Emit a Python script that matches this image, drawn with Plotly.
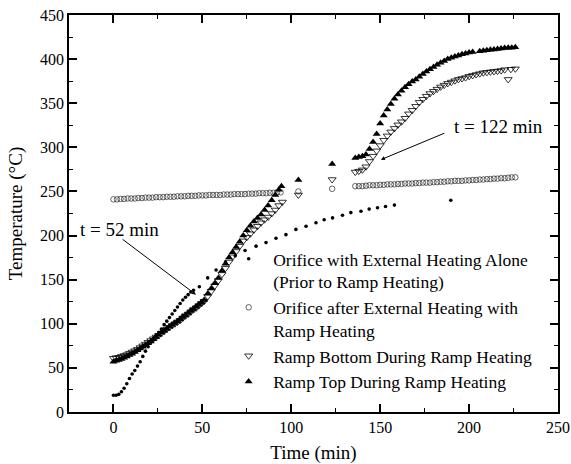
import plotly.graph_objects as go

# ---- Data ----
# Orifice with External Heating Alone (Prior to Ramp Heating) - small filled dots
ext_t = [0, 1.5, 3, 4.5, 6, 7.5, 9, 10.5, 12, 13.5, 15, 16.5, 18, 19.5, 21, 22.5, 24, 25.5,
         27, 28.5, 30, 31.5, 33, 34.5, 36, 37.5, 39, 40.5, 42, 43.5, 45,
         48.3, 53, 57.7, 63, 68.5, 74, 80.2, 85.8, 91.4, 97, 102.6, 108.3, 113.9, 118.5,
         123.2, 128.8, 133.5, 139.2, 143.8, 148.5, 153, 158, 189.7]
ext_y = [19, 19, 20, 23, 27, 32, 38, 43, 47, 52, 57, 63, 69, 74, 79, 83, 87, 90,
         94, 99, 103, 107, 111, 115, 119, 123, 127, 130, 133, 136, 138,
         142, 152, 161, 170, 177, 183, 188, 192, 197, 201, 207, 210.5, 214.5, 218,
         220, 223, 226, 227.6, 230, 231.5, 233, 234.5, 240]

# Orifice after External Heating with Ramp Heating - open circles
ori_t = [0, 2, 4, 6, 8, 10, 12, 14, 16, 18, 20, 22, 24, 26, 28, 30, 32, 34, 36, 38, 40,
         42, 44, 46, 48, 50, 52, 54, 56, 58, 60, 62, 64, 66, 68, 70, 72, 74, 76, 78, 80,
         82, 84, 86, 88, 90, 92, 94,
         104, 123,
         136, 138, 140, 142, 144, 146, 148, 150, 152, 154, 156, 158, 160, 162, 164, 166,
         168, 170, 172, 174, 176, 178, 180, 182, 184, 186, 188, 190, 192, 194, 196, 198,
         200, 202, 204, 206, 208, 210, 212, 214, 216, 218, 220, 222, 224, 226]
ori_y = [241, 241, 241.5, 241.5, 242, 242, 242, 242.5, 242.5, 243, 243, 243, 243.5, 243.5,
         243.5, 244, 244, 244, 244.5, 244.5, 244.5, 245, 245, 245, 245.5, 245.5, 245.5, 246,
         246, 246, 246, 246.5, 246.5, 246.5, 247, 247, 247, 247, 247.5, 247.5, 247.5, 248,
         248, 248, 248.5, 248.5, 249, 249,
         250, 253,
         256, 256, 256, 256.5, 257, 257, 257, 257.5, 257.5, 258, 258, 258, 258.5, 258.5,
         259, 259, 259, 259.5, 259.5, 260, 260, 260, 260.5, 260.5, 261, 261, 261.5, 261.5,
         262, 262, 262, 262.5, 262.5, 263, 263, 263.5, 263.5, 264, 264, 264.5, 264.5, 265,
         265, 265.5, 266, 266]

# Ramp Bottom During Ramp Heating - open down triangles
bot_t = [0, 1.5, 3, 4.5, 6, 7.5, 9, 10.5, 12, 13.5, 15, 16.5, 18, 19.5, 21, 22.5, 24, 25.5,
         27, 28.5, 30, 31.5, 33, 34.5, 36, 37.5, 39, 40.5, 42, 43.5, 45, 46.5, 48, 49.5, 51,
         53, 55, 57, 59, 61, 63, 65, 67, 69, 71, 73, 75, 77, 79, 81, 83, 85, 87, 89, 91, 93, 95,
         104, 123,
         136, 138, 140, 142, 144, 146, 148, 150, 152, 154, 156, 158, 160, 162, 164, 166, 168,
         170, 172, 174, 176, 178, 180, 182, 184, 186, 188, 190, 192, 194, 196, 198, 200, 202,
         204, 206, 208, 210, 212, 214, 216, 218, 220, 222, 223.5, 226]
bot_y = [61, 61.5, 62, 63, 64, 65, 66.5, 68, 69.5, 71, 73, 75, 77, 79, 81, 83, 85, 87,
         89.5, 91.5, 94, 96, 98, 100, 102, 104, 106.5, 109, 111, 113.5, 116, 118, 120.5, 123,
         125.5,
         131, 137, 143, 149, 156, 163, 170, 176, 182, 188, 194, 198, 202, 206.5, 210.5, 214.5,
         218, 221, 225, 229, 234, 238,
         246, 263.5,
         272, 273, 274.5, 278, 284, 290, 296, 302, 308, 313, 317.5, 321.5, 325.5, 329, 333,
         338, 342, 346.5, 351, 354.5, 358, 361, 363.5, 366, 368.5, 370.5, 372.5, 374, 375.5,
         377, 378, 379, 380.5, 381.5, 382.5, 383.5, 384.5, 385, 385.5, 386, 386.5, 387, 388,
         377, 388.5, 389]

# Ramp Top During Ramp Heating - filled up triangles
top_t = [0, 1.5, 3, 4.5, 6, 7.5, 9, 10.5, 12, 13.5, 15, 16.5, 18, 19.5, 21, 22.5, 24, 25.5,
         27, 28.5, 30, 31.5, 33, 34.5, 36, 37.5, 39, 40.5, 42, 43.5, 45, 46.5, 48, 49.5, 51,
         53, 55, 57, 59, 61, 63, 65, 67, 69, 71, 73, 75, 77, 79, 81, 83, 85, 87, 89, 91, 93,
         94.5,
         104, 123,
         136, 138, 140, 142, 144, 146, 148, 150, 152, 154, 156, 158, 160, 162, 164, 166, 168,
         170, 172, 174, 176, 178, 180, 182, 184, 186, 188, 190, 192, 194, 196, 198, 200, 202,
         206, 208, 210, 212, 214, 216, 218, 220, 222, 224, 226]
top_y = [57, 58, 59, 60, 61.5, 63, 64.5, 66, 68, 70, 72, 74, 76, 78, 80, 82.5, 85, 87.5,
         90, 92, 94.5, 97, 99, 101, 103, 105.5, 108, 110, 112.5, 115, 117, 119.5, 122, 124.5,
         127,
         134, 140, 146, 152, 160, 168, 175, 181, 187, 193, 200, 206, 211, 216, 220, 224, 229,
         234, 240, 246, 252, 256,
         263, 281,
         288, 289, 290, 292, 298, 306, 315, 327, 336, 343, 349, 355, 360, 364, 368, 371.5,
         374.5, 377, 380, 383, 386, 388.5, 391, 393.5, 396, 398, 400, 401.5, 403, 404, 405.5,
         406.5, 407.5, 408, 409, 409.5, 410, 410.5, 411, 411.5, 412, 412.5, 413, 413, 413.5]

FONT = "Liberation Serif"

fig = go.Figure()
fig.add_trace(go.Scatter(
    x=ext_t, y=ext_y, mode="markers",
    name="Orifice with External Heating Alone<br>(Prior to Ramp Heating)",
    marker=dict(symbol="circle", size=3.6, color="black")))
fig.add_trace(go.Scatter(
    x=ori_t, y=ori_y, mode="markers",
    name="Orifice after External Heating with<br>Ramp Heating",
    marker=dict(symbol="circle-open", size=5.5, color="#222", line=dict(width=0.7))))
fig.add_trace(go.Scatter(
    x=bot_t, y=bot_y, mode="markers",
    name="Ramp Bottom During Ramp Heating",
    marker=dict(symbol="triangle-down-open", size=7, color="black", line=dict(width=0.8))))
fig.add_trace(go.Scatter(
    x=top_t, y=top_y, mode="markers",
    name="Ramp Top During Ramp Heating",
    marker=dict(symbol="triangle-up", size=7, color="black")))

axis_common = dict(
    showline=True, linecolor="black", linewidth=1.5, mirror="ticks",
    ticks="inside", ticklen=8, tickwidth=1.5, tickcolor="black",
    showgrid=False, zeroline=False, automargin=False,
    tickfont=dict(family=FONT, size=16, color="black"),
)

fig.update_xaxes(range=[-25, 250], tick0=0, dtick=50,
                 minor=dict(ticks="inside", ticklen=4, tickwidth=1.2, tickcolor="black", dtick=25, tick0=0),
                 title=dict(text="Time (min)", font=dict(family=FONT, size=19, color="black"), standoff=12),
                 **axis_common)
fig.update_yaxes(range=[0, 450], tick0=0, dtick=50,
                 minor=dict(ticks="inside", ticklen=4, tickwidth=1.2, tickcolor="black", dtick=25, tick0=0),
                 title=dict(text="Temperature (°C)", font=dict(family=FONT, size=19, color="black"), standoff=12),
                 **axis_common)

fig.add_annotation(x=-20, y=207, xref="x", yref="y", text="t = 52 min", showarrow=False,
                   xanchor="left", yanchor="middle", font=dict(family=FONT, size=19, color="black"))
fig.add_annotation(x=46.4, y=133, xref="x", yref="y", ax=4.3, ay=197, axref="x", ayref="y",
                   text="", showarrow=True, arrowhead=2, arrowsize=0.8, arrowwidth=1, arrowcolor="black")
fig.add_annotation(x=190.4, y=324, xref="x", yref="y", text="t = 122 min", showarrow=False,
                   xanchor="left", yanchor="middle", font=dict(family=FONT, size=19, color="black"))
fig.add_annotation(x=150.4, y=286, xref="x", yref="y", ax=186.9, ay=316.7, axref="x", ayref="y",
                   text="", showarrow=True, arrowhead=2, arrowsize=0.8, arrowwidth=1, arrowcolor="black")

fig.update_layout(
    width=571, height=464,
    margin=dict(l=69, r=13, t=15, b=52, autoexpand=False),
    paper_bgcolor="white", plot_bgcolor="white",
    font=dict(family=FONT, color="black"),
    legend=dict(x=0.3173, y=0.431, xanchor="left", yanchor="top",
                bgcolor="rgba(0,0,0,0)", valign="top", itemwidth=39,
                font=dict(family=FONT, size=17.5, color="black"),
                tracegroupgap=0),
    showlegend=True,
)

fig.write_html("out.html",
               config={"displayModeBar": False},
               post_script="document.body.style.margin='0';document.body.style.padding='0';")
